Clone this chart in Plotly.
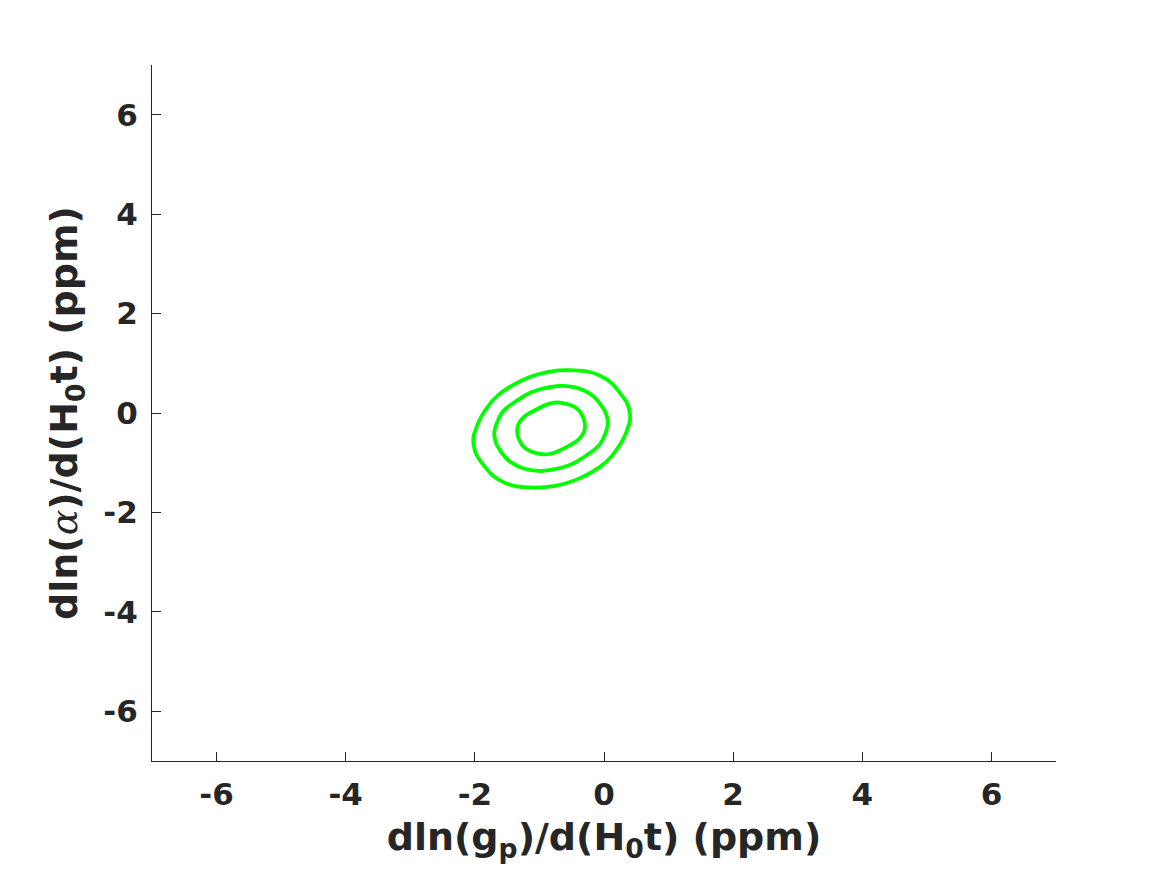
import plotly.graph_objects as go

# Contour points (data units), going clockwise from the left end
outer_x = [-2.02, -1.97, -1.83, -1.64, -1.23, -0.84, -0.53, -0.06, 0.25,
           0.40, 0.35, 0.21, 0.02, -0.39, -0.78, -1.09, -1.56, -1.87]
outer_y = [-0.64, -0.27, 0.07, 0.36, 0.68, 0.83, 0.86, 0.75, 0.40,
           0.00, -0.37, -0.71, -1.00, -1.32, -1.47, -1.50, -1.39, -1.04]

middle_x = [-1.70, -1.67, -1.57, -1.38, -1.12, -0.84, -0.58, -0.22, -0.01, 0.04,
            0.06, 0.03, -0.07, -0.26, -0.52, -0.80, -1.06, -1.42, -1.63, -1.68]
middle_y = [-0.41, -0.24, 0.02, 0.22, 0.42, 0.52, 0.54, 0.39, 0.09, -0.05,
            -0.21, -0.38, -0.64, -0.84, -1.04, -1.14, -1.16, -1.01, -0.71, -0.57]

inner_x = [-1.345, -1.33, -1.24, -1.12, -0.84, -0.68, -0.42, -0.32,
           -0.295, -0.31, -0.40, -0.52, -0.80, -0.96, -1.22, -1.32]
inner_y = [-0.37, -0.24, -0.08, 0.02, 0.19, 0.21, 0.09, -0.10,
           -0.25, -0.38, -0.54, -0.64, -0.81, -0.83, -0.71, -0.52]

x_ticks = [-6, -4, -2, 0, 2, 4, 6]
y_ticks = [-6, -4, -2, 0, 2, 4, 6]
x_range = [-7, 7]
y_range = [-7, 7]

GREEN = "#00ff00"
INK = "#262626"

fig = go.Figure()
for xs, ys in [(outer_x, outer_y), (middle_x, middle_y), (inner_x, inner_y)]:
    fig.add_trace(go.Scatter(
        x=xs + xs[:1], y=ys + ys[:1], mode="lines",
        line=dict(color=GREEN, width=3.8, shape="spline", smoothing=1.3),
        showlegend=False, hoverinfo="skip"))

axis_common = dict(
    showgrid=False, zeroline=False, showline=True, linecolor=INK, linewidth=1,
    ticks="inside", ticklen=9, tickwidth=1, tickcolor=INK, mirror=False,
    tickfont=dict(family="DejaVu Sans", size=31, color=INK),
)

fig.update_layout(
    width=1167, height=875,
    margin=dict(l=144, r=119, t=57, b=122),
    plot_bgcolor="white", paper_bgcolor="white",
    font=dict(family="DejaVu Sans", color=INK),
    xaxis=dict(range=x_range, tickvals=x_ticks, ticktext=[f"<b>{v}</b>" for v in x_ticks],
               ticklabelstandoff=6,
               title=dict(text="<b>dln(g<sub>p</sub>)/d(H<sub>0</sub>t) (ppm)</b>",
                          font=dict(family="DejaVu Sans", size=38, color=INK), standoff=12),
               **axis_common),
    yaxis=dict(range=y_range, tickvals=y_ticks, ticktext=[f"<b>{v}</b>" for v in y_ticks],
               ticklabelstandoff=7,
               title=dict(text="<b>dln(<span style=\"font-family:'DejaVu Serif';font-weight:normal\"><i>α</i></span>)/d(H<sub>0</sub>t) (ppm)</b>",
                          font=dict(family="DejaVu Sans", size=38, color=INK), standoff=14),
               **axis_common),
)

fig.write_html("out.html")
